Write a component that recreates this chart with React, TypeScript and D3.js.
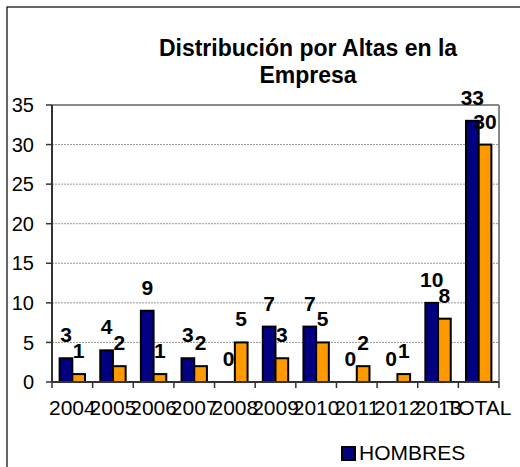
import React from "react";
import * as d3 from "d3";

const categories = ["2004", "2005", "2006", "2007", "2008", "2009", "2010", "2011", "2012", "2013", "TOTAL"];
const hombres = [3, 4, 9, 3, 0, 7, 7, 0, 0, 10, 33];
const mujeres = [1, 2, 1, 2, 5, 3, 5, 2, 1, 8, 30];
const yTicks = [0, 5, 10, 15, 20, 25, 30, 35];
const seriesNames = ["HOMBRES", "MUJERES"];
const colors = ["#000080", "#FF9900"];

const font = "Arial, 'Liberation Sans', sans-serif";

export default function App() {
  const width = 520;
  const height = 467;
  const plot = { left: 52, right: 499, top: 105, bottom: 382 };

  const x0 = d3.scaleBand<string>().domain(categories).range([plot.left, plot.right]).padding(0);
  const x1 = d3
    .scaleBand<string>()
    .domain(seriesNames)
    .range([0, x0.bandwidth()])
    .paddingInner(0)
    .paddingOuter(0.6);
  const y = d3.scaleLinear().domain([0, 35]).range([plot.bottom, plot.top]);

  const series = [hombres, mujeres];
  // band boundaries for the x ticks (Excel style, between categories)
  const xTickPos = categories.map((c) => x0(c) ?? 0).concat([plot.right]);

  return (
    <svg
      width={width}
      height={height}
      style={{ position: "absolute", left: 0, top: 0, display: "block", background: "#fff" }}
      fontFamily={font}
    >
      {/* chart area border, runs off the picture on the right and bottom */}
      <rect x={7} y={7} width={600} height={600} fill="none" stroke="#000" strokeWidth={1.2} />

      {/* title */}
      <text x={308} y={56} textAnchor="middle" fontWeight="bold" fontSize={23}>
        Distribución por Altas en la
      </text>
      <text x={308} y={83} textAnchor="middle" fontWeight="bold" fontSize={23}>
        Empresa
      </text>

      {/* gridlines */}
      {yTicks
        .filter((t) => t > 0 && t < 35)
        .map((t) => (
          <line
            key={"g" + t}
            x1={plot.left}
            x2={plot.right}
            y1={y(t)}
            y2={y(t)}
            stroke="#999"
            strokeWidth={1}
            strokeDasharray="2,1"
          />
        ))}

      {/* plot frame top & right */}
      <line x1={plot.left} x2={plot.right} y1={plot.top} y2={plot.top} stroke="#888" strokeWidth={2} />
      <line x1={plot.right} x2={plot.right} y1={plot.top} y2={plot.bottom} stroke="#888" strokeWidth={2} />

      {/* bars */}
      {categories.map((c, i) => (
        <g key={c} transform={`translate(${x0(c)},0)`}>
          {series.map((s, j) =>
            s[i] > 0 ? (
              <rect
                key={j}
                x={x1(seriesNames[j])}
                y={y(s[i])}
                width={x1.bandwidth()}
                height={y(0) - y(s[i])}
                fill={colors[j]}
                stroke="#000"
                strokeWidth={2}
              />
            ) : null
          )}
        </g>
      ))}

      {/* data labels */}
      {categories.map((c, i) =>
        series.map((s, j) => (
          <text
            key={c + j}
            x={(x0(c) ?? 0) + (x1(seriesNames[j]) ?? 0) + x1.bandwidth() / 2}
            y={y(s[i]) - 16}
            textAnchor="middle"
            fontWeight="bold"
            fontSize={21}
          >
            {s[i]}
          </text>
        ))
      )}

      {/* y axis */}
      <line x1={plot.left} x2={plot.left} y1={plot.top} y2={plot.bottom} stroke="#333" strokeWidth={2} />
      {yTicks.map((t) => (
        <g key={"y" + t}>
          <line x1={plot.left - 6} x2={plot.left} y1={y(t)} y2={y(t)} stroke="#333" strokeWidth={1.5} />
          <text x={34} y={y(t)} dy="0.36em" textAnchor="end" fontSize={20}>
            {t}
          </text>
        </g>
      ))}

      {/* x axis */}
      <line x1={plot.left} x2={plot.right} y1={plot.bottom} y2={plot.bottom} stroke="#333" strokeWidth={2} />
      {xTickPos.map((p, i) => (
        <line key={"xt" + i} x1={p} x2={p} y1={plot.bottom} y2={plot.bottom + 6} stroke="#333" strokeWidth={1.5} />
      ))}
      {categories.map((c) => (
        <text key={"xl" + c} x={(x0(c) ?? 0) + x0.bandwidth() / 2} y={415} textAnchor="middle" fontSize={21}>
          {c}
        </text>
      ))}

      {/* legend */}
      <rect x={342} y={447} width={13} height={13} fill={colors[0]} stroke="#000" strokeWidth={2} />
      <text x={359} y={460} fontSize={21}>
        {seriesNames[0]}
      </text>
    </svg>
  );
}
